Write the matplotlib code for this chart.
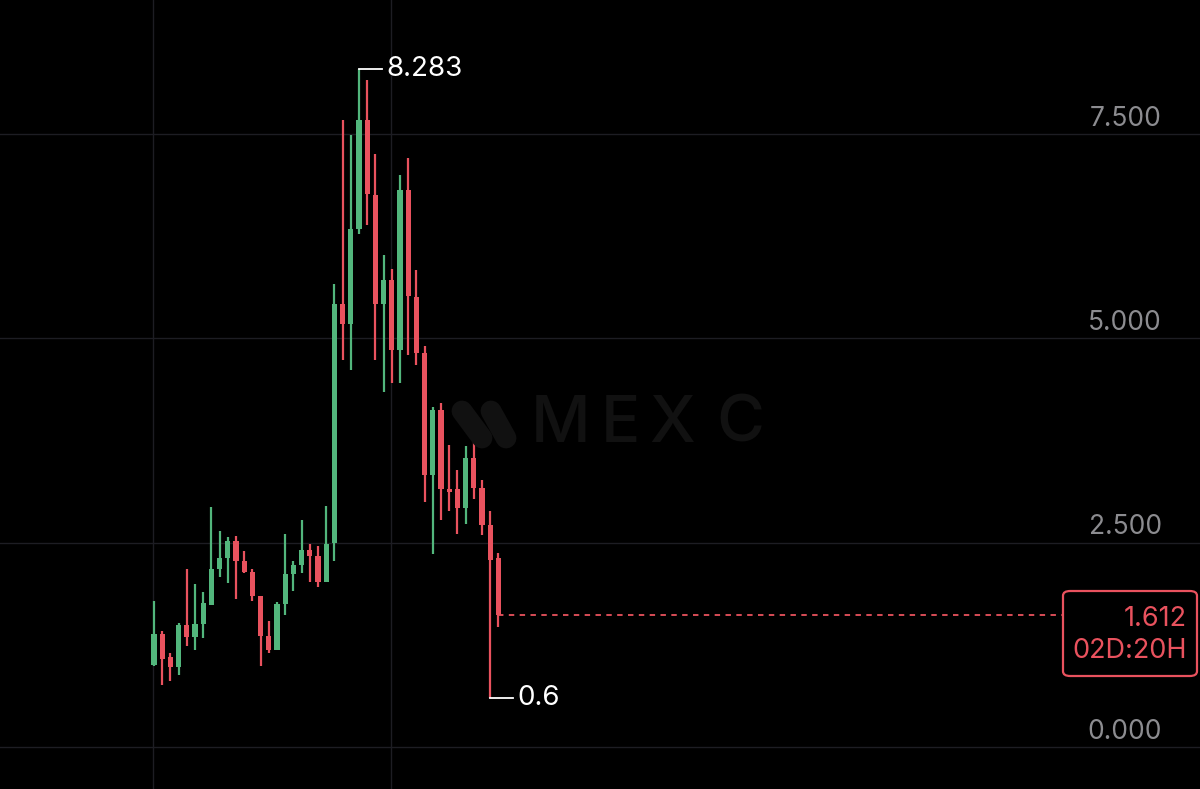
import matplotlib
matplotlib.use("Agg")
import matplotlib.pyplot as plt
from matplotlib.patches import FancyBboxPatch, Rectangle
import numpy as np

plt.rcParams['font.family'] = ['Inter', 'DejaVu Sans']

# candle data
opens = [1.00, 1.38, 1.10, 0.98, 1.49, 1.35, 1.50, 1.74, 2.18, 2.31, 2.52, 2.27, 2.14, 1.84, 1.36,
         1.19, 1.75, 2.11, 2.23, 2.41, 2.34, 2.02, 2.49, 5.42, 5.17, 6.33, 7.66, 6.75, 5.42, 5.71,
         4.85, 6.81, 5.50, 4.82, 3.33, 4.12, 3.16, 3.15, 2.92, 3.53, 3.17, 2.71, 2.31]
highs = [1.78, 1.42, 1.15, 1.51, 2.18, 1.99, 1.89, 2.94, 2.64, 2.57, 2.58, 2.39, 2.18, 1.84, 1.54,
         1.77, 2.60, 2.27, 2.77, 2.48, 2.46, 2.95, 5.66, 7.66, 7.48, 8.283, 8.15, 7.25, 6.01, 5.84,
         6.99, 7.20, 5.83, 4.90, 4.16, 4.21, 3.69, 3.39, 3.68, 3.74, 3.26, 2.88, 2.37]
lows = [0.99, 0.76, 0.81, 0.88, 1.23, 1.19, 1.33, 1.73, 2.08, 2.01, 1.81, 2.13, 1.78, 0.99, 1.15,
        1.18, 1.61, 1.91, 2.13, 2.02, 1.96, 2.02, 2.27, 4.73, 4.61, 6.27, 6.38, 4.73, 4.34, 4.45,
        4.45, 4.79, 4.67, 3.00, 2.36, 2.78, 2.89, 2.61, 2.73, 3.03, 2.59, 0.60, 1.47]
closes = [1.38, 1.08, 0.98, 1.49, 1.35, 1.50, 1.76, 2.18, 2.31, 2.52, 2.27, 2.14, 1.84, 1.36, 1.19,
          1.75, 2.11, 2.23, 2.41, 2.34, 2.02, 2.48, 5.42, 5.17, 6.33, 7.66, 6.76, 5.42, 5.71, 4.85,
          6.81, 5.51, 4.82, 3.33, 4.12, 3.16, 3.12, 2.92, 3.53, 3.17, 2.71, 2.29, 1.612]

y_ticks = [0.0, 2.5, 5.0, 7.5]
tick_labels = ["0.000", "2.500", "5.000", "7.500"]
last_price = "1.612"
countdown = "02D:20H"
high_label = "8.283"
low_label = "0.6"

green = "#52b67c"
red = "#e9525e"
grid_c = "#1d1d23"
label_c = "#8c8c90"
wm_c = "#111111"

W, H = 1200, 789
fig = plt.figure(figsize=(W / 100, H / 100), dpi=100, facecolor="black")
ax = fig.add_axes([0, 0, 1, 1])
ax.set_facecolor("black")

step = 8.2
x0 = 154
ax.set_xlim(-x0 / step, (W - x0) / step)
ax.set_ylim((747 - H) / 81.8, 747 / 81.8)
ax.axis("off")

# grid
for v in y_ticks:
    ax.axhline(v, color=grid_c, lw=1, zorder=0)
for xv in [-0.1, 28.95]:
    ax.axvline(xv, color=grid_c, lw=1, zorder=0)

# watermark
def fx(px):
    return px / W
def fy(py):
    return 1 - py / H
for ch, cx in zip("MEXC", [561, 620, 672, 740]):
    fig.text(fx(cx), fy(425), ch, color=wm_c, fontsize=47, ha="center", va="center",
             fontweight="medium", family=["Inter", "DejaVu Sans"], zorder=1)
for (xa, ya, xb, yb) in [(462, 411, 482, 438), (491, 411, 506, 438)]:
    fig.add_artist(plt.Line2D([fx(xa), fx(xb)], [fy(ya), fy(yb)], color=wm_c,
                              lw=15, solid_capstyle="round", zorder=1))

# candles
idx = np.arange(len(opens))
bw = 0.62
for i, o, h, l, c in zip(idx, opens, highs, lows, closes):
    col = green if c >= o else red
    ax.vlines(i, l, h, color=col, lw=1.6, zorder=3)
    bot = min(o, c)
    hgt = max(abs(c - o), 0.03)
    ax.add_patch(Rectangle((i - bw / 2, bot), bw, hgt, color=col, lw=0, zorder=4))

# high / low markers
hi = int(np.argmax(highs))
lo = int(np.argmin(lows))
ax.plot([hi, hi + 2.8], [highs[hi], highs[hi]], color="white", lw=1.3, zorder=5)
ax.text(hi + 3.3, highs[hi], high_label, color="white", fontsize=20, va="center", ha="left")
ax.plot([lo, lo + 2.8], [lows[lo], lows[lo]], color="white", lw=1.3, zorder=5)
ax.text(lo + 3.3, lows[lo], low_label, color="white", fontsize=20, va="center", ha="left")

# last price line and box
box_left = (1063 - x0) / step
ax.plot([idx[-1], box_left], [closes[-1], closes[-1]], color=red, lw=1.3,
        dashes=(3, 3), zorder=2)
box = FancyBboxPatch((fx(1063), fy(676)), fx(1197) - fx(1063), fy(591) - fy(676),
                     boxstyle="round,pad=0,rounding_size=0.006", transform=fig.transFigure,
                     facecolor="black", edgecolor=red, lw=1.6, zorder=6)
fig.add_artist(box)
fig.text(fx(1187), fy(619), last_price, color=red, fontsize=19.5, ha="right", va="center", zorder=7)
fig.text(fx(1187), fy(651), countdown, color=red, fontsize=19.5, ha="right", va="center", zorder=7)

# y labels
for v, t in zip(y_ticks, tick_labels):
    ax.annotate(t, xy=(fx(1162), v), xycoords=("figure fraction", "data"),
                xytext=(0, 15), textcoords="offset pixels",
                color=label_c, fontsize=19, ha="right", va="center")

fig.savefig("out.png", dpi=100, facecolor="black")
